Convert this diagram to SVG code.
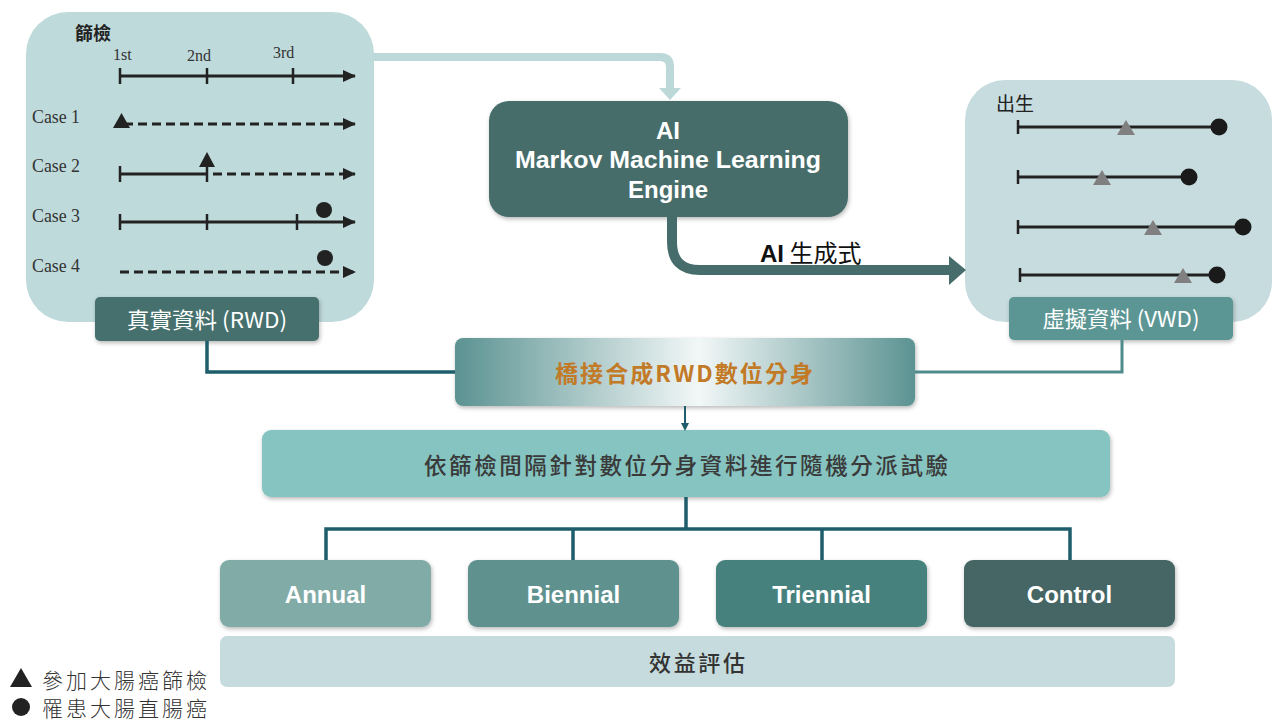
<svg xmlns="http://www.w3.org/2000/svg" width="1274" height="726" viewBox="0 0 1274 726">
<defs>
<style>
.cjk{font-family:"Noto Sans CJK TC","Noto Sans CJK SC",sans-serif}
.lat{font-family:"Liberation Sans",Arial,sans-serif}
.ser{font-family:"Liberation Serif","Times New Roman",serif}
.wt{fill:#ffffff}
.ln{stroke:#222;stroke-width:3;fill:none}
.dl{stroke:#222;stroke-width:3;fill:none;stroke-dasharray:9 5}
.tick{stroke:#222;stroke-width:2.5}
.conn{fill:none;stroke:#1e5d6b;stroke-width:3.5}
.gtri{fill:#808080}
.case{font-family:"Liberation Serif","Times New Roman",serif;font-size:19px;fill:#333}
</style>
<filter id="sh" x="-10%" y="-10%" width="120%" height="130%">
<feDropShadow dx="1" dy="2" stdDeviation="2" flood-color="#000" flood-opacity="0.28"/>
</filter>
<linearGradient id="bridge" x1="0" y1="0" x2="1" y2="0">
<stop offset="0" stop-color="#5b9392"/>
<stop offset="0.53" stop-color="#f2f7f7"/>
<stop offset="1" stop-color="#5b9392"/>
</linearGradient>
<marker id="ah" markerUnits="userSpaceOnUse" markerWidth="14" markerHeight="14" refX="12" refY="7" orient="auto">
<path d="M0,1 L13,7 L0,13 Z" fill="#222"/>
</marker>
</defs>

<!-- Left panel: RWD -->
<g id="rwd-panel">
<rect x="26" y="12" width="348" height="310" rx="42" fill="#bfdadb"/>
<text class="cjk" x="75" y="40" font-size="18" font-weight="700" fill="#222">篩檢</text>
<text class="ser" x="113" y="60" font-size="16" fill="#333">1st</text>
<text class="ser" x="187" y="61" font-size="16" fill="#333">2nd</text>
<text class="ser" x="273" y="58" font-size="16" fill="#333">3rd</text>
<line class="ln" x1="120" y1="76" x2="355" y2="76" marker-end="url(#ah)"/>
<line class="tick" x1="120" y1="68" x2="120" y2="84"/>
<line class="tick" x1="207" y1="68" x2="207" y2="84"/>
<line class="tick" x1="293" y1="68" x2="293" y2="84"/>

<text class="case" x="32" y="123" textLength="48" lengthAdjust="spacingAndGlyphs">Case 1</text>
<line class="dl" x1="124" y1="124" x2="355" y2="124" marker-end="url(#ah)"/>
<polygon points="113,128 121.5,113 130,128" fill="#222"/>

<text class="case" x="32" y="172" textLength="48" lengthAdjust="spacingAndGlyphs">Case 2</text>
<line class="ln" x1="120" y1="174" x2="207" y2="174"/>
<line class="dl" x1="213" y1="174" x2="355" y2="174" marker-end="url(#ah)"/>
<line class="tick" x1="120" y1="166" x2="120" y2="182"/>
<line class="tick" x1="207" y1="166" x2="207" y2="182"/>
<polygon points="199,167 207,152 215,167" fill="#222"/>

<text class="case" x="32" y="222" textLength="48" lengthAdjust="spacingAndGlyphs">Case 3</text>
<line class="ln" x1="120" y1="222" x2="355" y2="222" marker-end="url(#ah)"/>
<line class="tick" x1="120" y1="214" x2="120" y2="230"/>
<line class="tick" x1="207" y1="214" x2="207" y2="230"/>
<line class="tick" x1="297" y1="214" x2="297" y2="230"/>
<circle cx="324" cy="210" r="8" fill="#222"/>

<text class="case" x="32" y="272" textLength="48" lengthAdjust="spacingAndGlyphs">Case 4</text>
<line class="dl" x1="120" y1="272" x2="355" y2="272" marker-end="url(#ah)"/>
<circle cx="325" cy="258" r="8" fill="#222"/>
</g>

<g id="rwd-label">
<rect x="95" y="297" width="224" height="44" rx="5" fill="#456f6d" filter="url(#sh)"/>
<text class="cjk wt" x="207" y="328" font-size="22" text-anchor="middle" textLength="160" lengthAdjust="spacingAndGlyphs">真實資料 (RWD)</text>
</g>

<!-- Right panel: VWD -->
<g id="vwd-panel">
<rect x="965" y="80" width="307" height="242" rx="40" fill="#c7dcde"/>
<text class="cjk" x="996" y="111" font-size="19" fill="#222">出生</text>
<line class="ln" x1="1018" y1="127" x2="1218" y2="127"/>
<line class="tick" x1="1018" y1="120" x2="1018" y2="134"/>
<polygon class="gtri" points="1117,135 1126,120 1135,135"/>
<circle cx="1219" cy="127" r="8.5" fill="#1a1a1a"/>

<line class="ln" x1="1018" y1="177" x2="1188" y2="177"/>
<line class="tick" x1="1018" y1="170" x2="1018" y2="184"/>
<polygon class="gtri" points="1093,185 1102,170 1111,185"/>
<circle cx="1189" cy="177" r="8.5" fill="#1a1a1a"/>

<line class="ln" x1="1018" y1="227" x2="1243" y2="227"/>
<line class="tick" x1="1018" y1="220" x2="1018" y2="234"/>
<polygon class="gtri" points="1144,235 1153,220 1162,235"/>
<circle cx="1243" cy="227" r="8.5" fill="#1a1a1a"/>

<line class="ln" x1="1020" y1="275" x2="1216" y2="275"/>
<line class="tick" x1="1020" y1="268" x2="1020" y2="282"/>
<polygon class="gtri" points="1174,283 1183,268 1192,283"/>
<circle cx="1217" cy="275" r="8.5" fill="#1a1a1a"/>
</g>

<g id="vwd-label">
<rect x="1009" y="297" width="224" height="43" rx="5" fill="#5b9694" filter="url(#sh)"/>
<text class="cjk wt" x="1121" y="327" font-size="22" text-anchor="middle" textLength="157" lengthAdjust="spacingAndGlyphs">虛擬資料 (VWD)</text>
</g>

<!-- AI engine -->
<g id="ai-engine">
<rect x="489" y="101" width="359" height="116" rx="20" fill="#466d6b" filter="url(#sh)"/>
<text class="lat wt" x="668" y="139" font-size="24" font-weight="700" text-anchor="middle">AI</text>
<text class="lat wt" x="668" y="168" font-size="24" font-weight="700" text-anchor="middle" textLength="306" lengthAdjust="spacingAndGlyphs">Markov Machine Learning</text>
<text class="lat wt" x="668" y="198" font-size="24" font-weight="700" text-anchor="middle">Engine</text>
</g>

<!-- Bridge -->
<g id="bridge-node">
<rect x="455" y="338" width="460" height="68" rx="8" fill="url(#bridge)" filter="url(#sh)"/>
<text class="cjk" x="555" y="382" font-size="23" font-weight="700" fill="#c27a27" textLength="258" lengthAdjust="spacing">橋接合成RWD數位分身</text>
</g>

<!-- Random assignment -->
<g id="random-node">
<rect x="262" y="430" width="848" height="67" rx="9" fill="#85c4c0" filter="url(#sh)"/>
<text class="cjk" x="686" y="474" font-size="22.5" font-weight="500" fill="#3a3a3a" text-anchor="middle" textLength="524" lengthAdjust="spacing">依篩檢間隔針對數位分身資料進行隨機分派試驗</text>
</g>

<!-- Arms -->
<g id="annual">
<rect x="220" y="560" width="211" height="67" rx="9" fill="#81aba7" filter="url(#sh)"/>
<text class="lat wt" x="325.5" y="603" font-size="24" font-weight="700" text-anchor="middle">Annual</text>
</g>
<g id="biennial">
<rect x="468" y="560" width="211" height="67" rx="9" fill="#5e918f" filter="url(#sh)"/>
<text class="lat wt" x="573.5" y="603" font-size="24" font-weight="700" text-anchor="middle">Biennial</text>
</g>
<g id="triennial">
<rect x="716" y="560" width="211" height="67" rx="9" fill="#46817e" filter="url(#sh)"/>
<text class="lat wt" x="821.5" y="603" font-size="24" font-weight="700" text-anchor="middle">Triennial</text>
</g>
<g id="control">
<rect x="964" y="560" width="211" height="67" rx="9" fill="#446665" filter="url(#sh)"/>
<text class="lat wt" x="1069.5" y="603" font-size="24" font-weight="700" text-anchor="middle">Control</text>
</g>

<!-- Evaluation -->
<g id="evaluation">
<rect x="220" y="636" width="955" height="51" rx="7" fill="#c6dbdd"/>
<text class="cjk" x="697" y="671" font-size="22" font-weight="500" fill="#333" text-anchor="middle" textLength="96" lengthAdjust="spacing">效益評估</text>
</g>

<!-- Legend -->
<g id="legend">
<polygon points="10,687 21,668 32,687" fill="#222"/>
<text class="cjk" x="42" y="688" font-size="21" font-weight="300" fill="#333" textLength="165" lengthAdjust="spacing">參加大腸癌篩檢</text>
<circle cx="21" cy="707" r="9" fill="#222"/>
<text class="cjk" x="42" y="716" font-size="21" font-weight="300" fill="#333" textLength="165" lengthAdjust="spacing">罹患大腸直腸癌</text>
</g>

<!-- Connectors -->
<g id="connectors">
<path d="M373,57 H660 Q670,57 670,67 V89" fill="none" stroke="#bcd8d8" stroke-width="8"/>
<polygon points="659,88 681,88 670,100" fill="#bcd8d8"/>
<path d="M672,217 V242 Q672,270 700,270 H950" fill="none" stroke="#466d6b" stroke-width="10"/>
<polygon points="949,256 966,270 949,285" fill="#466d6b"/>
<text x="760" y="262" font-size="24" fill="#111"><tspan class="lat" font-weight="700">AI</tspan><tspan class="cjk"> 生成式</tspan></text>
<path class="conn" d="M207,341 V372 H455"/>
<path d="M1122,340 V372 H915" fill="none" stroke="#4f8b8b" stroke-width="3"/>
<line x1="685" y1="406" x2="685" y2="424" stroke="#1e5d6b" stroke-width="2"/>
<polygon points="681,423 689,423 685,431" fill="#1e5d6b"/>
<path class="conn" d="M686,497 V529"/>
<path class="conn" d="M326,560 V529 H1070 V560"/>
<path class="conn" d="M573,529 V560"/>
<path class="conn" d="M822,529 V560"/>
</g>
</svg>
